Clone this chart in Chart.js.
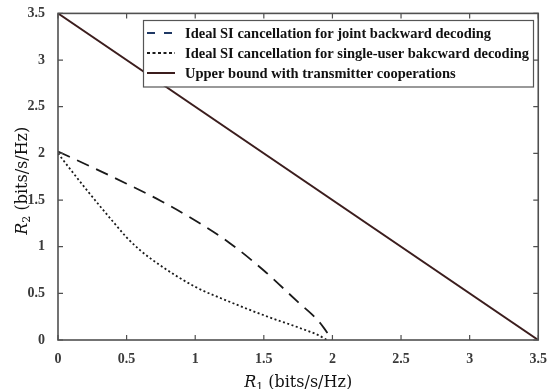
<!DOCTYPE html>
<html>
<head>
<meta charset="utf-8">
<script src="https://cdn.jsdelivr.net/npm/chart.js@4.4.1/dist/chart.umd.min.js"></script>
<style>
  html, body { margin: 0; padding: 0; background: #fff; }
</style>
</head>
<body>
<canvas id="c" width="550" height="389"></canvas>
<script>
// values
const r1Joint = [0, 0.25, 0.5, 0.75, 1, 1.25, 1.5, 1.75, 1.9, 2];
const r2Joint = [2.02, 1.85, 1.675, 1.49, 1.28, 1.04, 0.745, 0.405, 0.2, 0];
const r1Single = [0, 0.1, 0.2, 0.3, 0.4, 0.5, 0.6, 0.75, 1, 1.25, 1.5, 1.75, 1.9, 1.96];
const r2Single = [2.0, 1.81, 1.625, 1.445, 1.27, 1.10, 0.96, 0.795, 0.57, 0.41, 0.265, 0.135, 0.05, 0];
const r1Upper = [0, 3.5];
const r2Upper = [3.5, 0];
const xTicks = [0, 0.5, 1, 1.5, 2, 2.5, 3, 3.5];
const yTicks = [0, 0.5, 1, 1.5, 2, 2.5, 3, 3.5];

const serif = "'Liberation Serif', 'Times New Roman', serif";
const titleSerif = "'DejaVu Serif', serif";
const axisGrey = '#505050';

const toPoints = (xs, ys) => xs.map((x, i) => ({ x: x, y: ys[i] }));

// MATLAB-like box, inside ticks, legend and axis titles
const matlabLook = {
  id: 'matlabLook',
  afterDatasetsDraw(chart) {
    const { ctx, chartArea: a, scales } = chart;
    ctx.save();

    // legend
    const lx = 143, ly = 20, lw = 390, lh = 66.5;
    ctx.fillStyle = '#fff';
    ctx.fillRect(lx, ly, lw, lh);
    ctx.strokeStyle = '#555';
    ctx.lineWidth = 1.2;
    ctx.strokeRect(lx + 0.5, ly + 0.5, lw, lh);
    const rows = [33, 53, 73];
    const dashes = [[8, 9], [3, 2.5], []];
    ctx.font = 'bold 14.5px ' + serif;
    ctx.textBaseline = 'middle';
    chart.data.datasets.forEach((ds, i) => {
      ctx.beginPath();
      ctx.setLineDash(dashes[i]);
      ctx.strokeStyle = ds.legendColor || ds.borderColor;
      ctx.lineWidth = 2;
      ctx.moveTo(147, rows[i]);
      ctx.lineTo(175, rows[i]);
      ctx.stroke();
      ctx.setLineDash([]);
      ctx.fillStyle = '#111';
      ctx.fillText(ds.label, 185, rows[i] + 1);
    });

    // box
    ctx.strokeStyle = axisGrey;
    ctx.lineWidth = 1.6;
    ctx.strokeRect(a.left, a.top, a.right - a.left, a.bottom - a.top);

    // inside ticks on all four sides
    ctx.lineWidth = 1.2;
    ctx.beginPath();
    xTicks.forEach(v => {
      const px = scales.x.getPixelForValue(v);
      ctx.moveTo(px, a.bottom); ctx.lineTo(px, a.bottom - 5);
      ctx.moveTo(px, a.top); ctx.lineTo(px, a.top + 5);
    });
    yTicks.forEach(v => {
      const py = scales.y.getPixelForValue(v);
      ctx.moveTo(a.left, py); ctx.lineTo(a.left + 5, py);
      ctx.moveTo(a.right, py); ctx.lineTo(a.right - 5, py);
    });
    ctx.stroke();

    // axis titles: italic R with subscript
    const drawTitle = (sub, cx, cy, rotate) => {
      ctx.save();
      ctx.translate(cx, cy);
      if (rotate) ctx.rotate(-Math.PI / 2);
      ctx.fillStyle = '#111';
      ctx.textBaseline = 'alphabetic';
      const fR = 'italic 16px ' + titleSerif;
      const fSub = '11px ' + titleSerif;
      const fRest = '16px ' + titleSerif;
      const rest = ' (bits/s/Hz)';
      ctx.font = fR; const wR = ctx.measureText('R').width;
      ctx.font = fSub; const wS = ctx.measureText(sub).width;
      ctx.font = fRest; const wT = ctx.measureText(rest).width;
      let x = -(wR + wS + wT) / 2;
      ctx.font = fR; ctx.fillText('R', x, 6); x += wR;
      ctx.font = fSub; ctx.fillText(sub, x, 9); x += wS;
      ctx.font = fRest; ctx.fillText(rest, x, 6);
      ctx.restore();
    };
    drawTitle('1', (a.left + a.right) / 2, 381, false);
    drawTitle('2', 21, (a.top + a.bottom) / 2 + 4, true);

    ctx.restore();
  }
};

new Chart(document.getElementById('c'), {
  type: 'line',
  data: {
    datasets: [{
      label: 'Ideal SI cancellation for joint backward decoding',
      data: toPoints(r1Joint, r2Joint),
      borderColor: '#1a1a1a',
      legendColor: '#1f3864',
      borderWidth: 1.8,
      borderDash: [13, 8],
      cubicInterpolationMode: 'monotone',
      pointRadius: 0,
      fill: false
    }, {
      label: 'Ideal SI cancellation for single-user bakcward decoding',
      data: toPoints(r1Single, r2Single),
      borderColor: '#1a1a1a',
      borderWidth: 1.8,
      borderDash: [2, 2.5],
      cubicInterpolationMode: 'monotone',
      pointRadius: 0,
      fill: false
    }, {
      label: 'Upper bound with transmitter cooperations',
      data: toPoints(r1Upper, r2Upper),
      borderColor: '#3b1d1d',
      borderWidth: 2,
      pointRadius: 0,
      fill: false
    }]
  },
  options: {
    responsive: false,
    animation: false,
    layout: {
      autoPadding: false,
      padding: { left: 0, right: 11, top: 9, bottom: 0 }
    },
    scales: {
      x: {
        type: 'linear',
        min: 0,
        max: 3.5,
        afterBuildTicks: scale => { scale.ticks = xTicks.map(v => ({ value: v })); },
        afterFit: scale => { scale.height = 49; },
        grid: { display: false },
        border: { display: false },
        ticks: {
          color: '#3a3a3a',
          padding: 3,
          maxRotation: 0,
          callback: v => String(v),
          font: { family: serif, size: 14, weight: 'bold' }
        }
      },
      y: {
        type: 'linear',
        min: 0,
        max: 3.5,
        afterBuildTicks: scale => { scale.ticks = yTicks.map(v => ({ value: v })); },
        afterFit: scale => { scale.width = 58; },
        grid: { display: false },
        border: { display: false },
        ticks: {
          color: '#3a3a3a',
          padding: 5,
          callback: v => String(v),
          font: { family: serif, size: 14, weight: 'bold' }
        }
      }
    },
    plugins: {
      legend: false,
      tooltip: false
    }
  },
  plugins: [matlabLook]
});
</script>
</body>
</html>
